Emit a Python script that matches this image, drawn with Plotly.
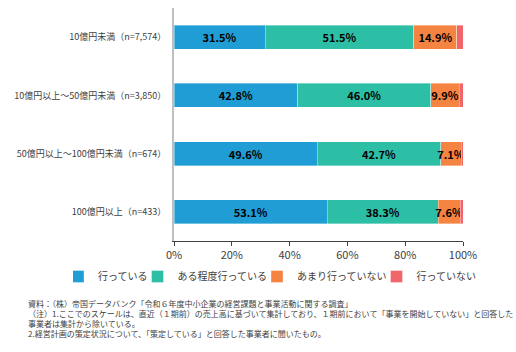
import plotly.graph_objects as go

categories = ["10億円未満（n=7,574）", "10億円以上～50億円未満（n=3,850）",
              "50億円以上～100億円未満（n=674）", "100億円以上（n=433）"]
series_names = ["行っている", "ある程度行っている", "あまり行っていない", "行っていない"]
v_doing = [31.5, 42.8, 49.6, 53.1]
v_some = [51.5, 46.0, 42.7, 38.3]
v_little = [14.9, 9.9, 7.1, 7.6]
v_not = [2.1, 1.3, 0.6, 1.0]
colors = ["#1f9dd4", "#2dbea6", "#f58442", "#f0666a"]
tick_vals = [0, 20, 40, 60, 80, 100]
tick_text = ["0%", "20%", "40%", "60%", "80%", "100%"]

FONT = "Noto Sans CJK JP"
fig = go.Figure()
for name, vals, col, show in zip(series_names, [v_doing, v_some, v_little, v_not], colors,
                                 [True, True, True, False]):
    fig.add_trace(go.Bar(
        y=categories, x=vals, name=name, orientation="h",
        marker=dict(color=col, line=dict(color="rgba(255,255,255,0.6)", width=0.6)),
        text=[f"{v:.1f}%" for v in vals] if show else None,
        textposition="inside" if show else "none",
        insidetextanchor="middle", constraintext="none", textangle=0,
        textfont=dict(family=FONT, size=11, color="#000000", weight="bold"),
        hoverinfo="skip",
    ))

fig.update_layout(
    barmode="stack", bargap=0.59,
    width=516, height=352,
    margin=dict(l=174, r=53, t=8, b=111, autoexpand=False),
    plot_bgcolor="white", paper_bgcolor="white",
    font=dict(family=FONT, size=9, color="#404040"),
    showlegend=True,
    legend=dict(orientation="h", x=(73 - 174) / 289, xref="paper", xanchor="left",
                y=(241 - 262) / 233, yref="paper", yanchor="top", traceorder="normal",
                font=dict(size=10, color="#404040"), itemwidth=30, indentation=-15,
                tracegroupgap=0),
    xaxis=dict(range=[0, 100], tickvals=tick_vals, ticktext=tick_text,
               showgrid=False, zeroline=False, showline=True, linecolor="#404040",
               linewidth=1, ticks="outside", ticklen=4, tickcolor="#404040",
               tickfont=dict(size=11, color="#404040")),
    yaxis=dict(autorange="reversed", showgrid=False, zeroline=False, showline=True,
               linecolor="#bfbfbf", linewidth=2, ticks="", ticksuffix="  ",
               tickfont=dict(size=9, color="#404040")),
)

notes = [
    "資料：（株）帝国データバンク「令和６年度中小企業の経営課題と事業活動に関する調査」",
    "（注）1.ここでのスケールは、直近（１期前）の売上高に基づいて集計しており、１期前において「事業を開始していない」と回答した",
    "事業者は集計から除いている。",
    "2.経営計画の策定状況について、「策定している」と回答した事業者に聞いたもの。",
]
for i, t in enumerate(notes):
    fig.add_annotation(text=t, xref="paper", yref="paper", x=(26 - 174) / 289,
                       y=(352 - 111 - (303 + 10 * i)) / 233, xanchor="left", yanchor="middle",
                       showarrow=False, font=dict(size=8, color="#404040", family=FONT))

fig.write_html("out.html")
